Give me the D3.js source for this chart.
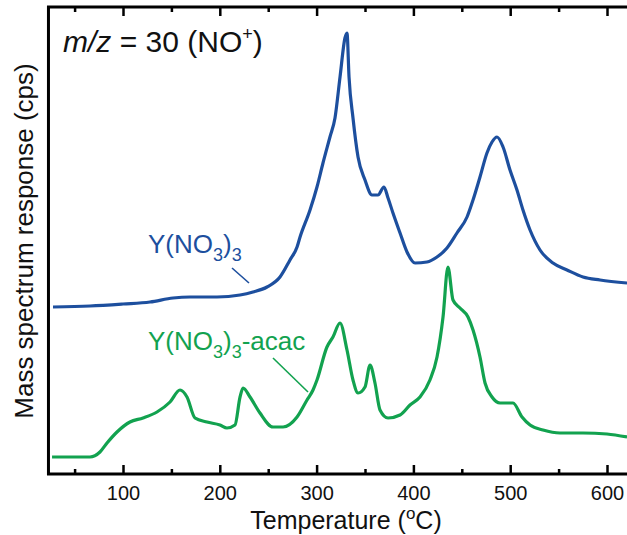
<!DOCTYPE html>
<html><head><meta charset="utf-8">
<script src="https://cdn.jsdelivr.net/npm/d3@7"></script>
<style>body{margin:0;background:#fff}svg{display:block;font-family:"Liberation Sans",Arial,sans-serif}</style>
</head><body><svg id="c" width="627" height="535"></svg>
<script>
// Temperature (°C)
const blueT = [27.7,65.9,100,127.9,151.7,169.2,197.1,220.9,234.3,248.8,262.2,272.5,279.8,282.9,293.2,300.4,306.6,313.8,319,324.2,329.3,331.4,333.5,337.6,342.8,350,357.2,363.4,369.6,373.8,378.9,386.2,393.4,401.7,414,424.4,434.7,445,455.4,461.6,468.8,476,481.2,486.4,492.6,499.8,507,513.2,520.5,530.8,544.2,558.7,575.2,592.8,620.7];
const blueY = [167,168,170,172,176,177,177,179,182,187,197,214,227,237,264,287,311,337,356,397,436,441,397,356,317,294,279,279,287,276,261,241,222,211,212,217,226,241,257,274,297,321,332,337,327,304,284,264,244,224,211,204,197,194,191];
const greenT = [26.7,65.9,76.2,83.5,93.8,107.2,120.7,135.1,148.6,158.9,166.1,174.4,186.8,200.2,207.4,215.7,220.9,224,231.2,241.5,255,265.3,279.8,290.1,296.3,300.4,310.7,316.9,324.2,331.4,337.6,342.8,350,355.2,360.3,365.5,373.8,386.2,396.5,406.8,417.1,424.4,430.6,435.7,440.9,448.1,456.4,461.6,468.8,474,481.2,489.5,502.9,512.2,520.5,533.9,551.4,575.2,600,620.7];
const greenY = [17,17,22,31,42,52,56,62,72,84,77,56,52,49,46,49,77,86,77,61,47,47,57,74,84,94,127,137,151,124,94,81,87,109,91,64,56,59,69,77,94,117,157,207,174,166,157,144,117,91,77,71,71,57,49,44,41,41,40,37];
const majorTicks = [100,200,300,400,500,600];
const minorTicks = [50,150,250,350,450,550];

const svg = d3.select("#c");
const x = d3.scaleLinear().domain([100,600]).range([123,607]);
const y = d3.scaleLinear().domain([0,467]).range([474,7]);
const x0 = x(23), x1 = x(625);

const blue = "#1d4f9e", green = "#12a24f";
const line = d3.line().x(d=>x(d[0])).y(d=>y(d[1])).curve(d3.curveMonotoneX);
svg.append("path").datum(d3.zip(blueT,blueY)).attr("d",line).attr("fill","none").attr("stroke",blue).attr("stroke-width",3.2).attr("stroke-linejoin","round");
svg.append("path").datum(d3.zip(greenT,greenY)).attr("d",line).attr("fill","none").attr("stroke",green).attr("stroke-width",3.2).attr("stroke-linejoin","round");

// axes
const ax = svg.append("g").attr("transform",`translate(0,${y(0)})`)
  .call(d3.axisBottom(x).tickValues(majorTicks).tickSize(-9).tickPadding(12).tickFormat(d3.format("d")));
ax.select(".domain").remove();
ax.selectAll("text").attr("font-size",20).attr("fill","#111").attr("font-family","Liberation Sans, Arial, sans-serif");
ax.selectAll("line").attr("stroke","#000").attr("stroke-width",2.5);
const axm = svg.append("g").attr("transform",`translate(0,${y(0)})`)
  .call(d3.axisBottom(x).tickValues(minorTicks).tickSize(-5).tickFormat(""));
axm.select(".domain").remove();
axm.selectAll("line").attr("stroke","#000").attr("stroke-width",2.5);
const at = svg.append("g").attr("transform",`translate(0,${y(467)})`)
  .call(d3.axisTop(x).tickValues(majorTicks).tickSize(-9).tickFormat(""));
at.select(".domain").remove();
at.selectAll("line").attr("stroke","#000").attr("stroke-width",2.5);
const atm = svg.append("g").attr("transform",`translate(0,${y(467)})`)
  .call(d3.axisTop(x).tickValues(minorTicks).tickSize(-5).tickFormat(""));
atm.select(".domain").remove();
atm.selectAll("line").attr("stroke","#000").attr("stroke-width",2.5);
svg.append("path").attr("d",`M${x1},${y(467)}H${x0}V${y(0)}H${x1}`).attr("fill","none").attr("stroke","#000").attr("stroke-width",3);

// titles
const xt = svg.append("text").attr("x",346).attr("y",529).attr("text-anchor","middle").attr("font-size",25).attr("fill","#111");
xt.append("tspan").text("Temperature (");
xt.append("tspan").attr("font-size",17).attr("dy",-10).text("o");
xt.append("tspan").attr("dy",10).text("C)");
svg.append("text").attr("transform","translate(33,241) rotate(-90)").attr("text-anchor","middle").attr("font-size",26).attr("fill","#111").text("Mass spectrum response (cps)");

const mz = svg.append("text").attr("x",63).attr("y",52).attr("font-size",30).attr("fill","#111");
mz.append("tspan").attr("font-style","italic").text("m/z");
mz.append("tspan").text(" = 30 (NO");
mz.append("tspan").attr("font-size",18).attr("dy",-12).text("+");
mz.append("tspan").attr("dy",12).text(")");

function label(xp, yp, color, tail){
  const t = svg.append("text").attr("x",xp).attr("y",yp).attr("font-size",26).attr("fill",color);
  t.append("tspan").text("Y(NO");
  t.append("tspan").attr("font-size",18).attr("dy",8).text("3");
  t.append("tspan").attr("dy",-8).text(")");
  t.append("tspan").attr("font-size",18).attr("dy",8).text("3");
  if (tail) t.append("tspan").attr("dy",-8).text(tail);
}
label(148,253,blue,null);
svg.append("line").attr("x1",232).attr("y1",268).attr("x2",249).attr("y2",283).attr("stroke",blue).attr("stroke-width",1.6);
label(148,350,green,"-acac");
svg.append("line").attr("x1",273).attr("y1",358).attr("x2",308).attr("y2",392).attr("stroke",green).attr("stroke-width",1.6);
</script></body></html>
